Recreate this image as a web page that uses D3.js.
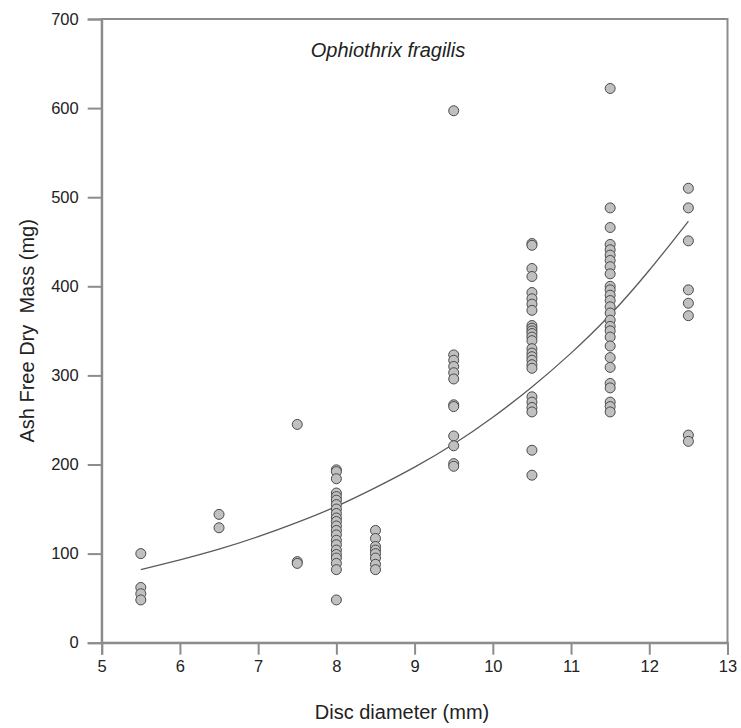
<!DOCTYPE html>
<html>
<head>
<meta charset="utf-8">
<script src="https://cdn.jsdelivr.net/npm/d3@7"></script>
<style>
  html, body { margin: 0; padding: 0; background: #fff; }
  svg text { font-family: Arial, "Liberation Sans", sans-serif; fill: #222; }
</style>
</head>
<body>
<svg id="chart" width="741" height="728"></svg>
<script>
// Disc diameter classes (mm) and the AFDM readings (mg) seen in each column
const DIAMETERS = [5.5, 6.5, 7.5, 8.0, 8.5, 9.5, 10.5, 11.5, 12.5];
const MASS_BY_DIAMETER = [
  [100, 62, 55, 48],
  [144, 129],
  [245, 91, 89],
  [194, 192, 184, 168, 164, 160, 155, 150, 145, 140, 136, 131, 126, 121, 115, 110, 104, 99, 95, 89, 82, 48],
  [126, 117, 108, 104, 100, 95, 88, 82],
  [597, 323, 317, 310, 303, 296, 267, 265, 232, 221, 201, 198],
  [448, 446, 420, 411, 393, 386, 380, 373, 356, 353, 350, 347, 343, 339, 330, 325, 321, 317, 312, 308, 276, 270, 264, 259, 216, 188],
  [622, 488, 466, 447, 441, 435, 429, 422, 414, 400, 396, 390, 384, 377, 370, 362, 355, 350, 343, 333, 320, 309, 291, 286, 270, 265, 259],
  [510, 488, 451, 396, 381, 367, 233, 226]
];
// fitted curve
const CURVE_X = [5.5, 6, 6.5, 7, 7.5, 8, 8.5, 9, 9.5, 10, 10.5, 11, 11.5, 12, 12.5];
const CURVE_Y = [82, 93, 105, 119, 135, 153, 174, 197, 223, 253, 287, 325, 368, 418, 473];

const X_TICKS = [5, 6, 7, 8, 9, 10, 11, 12, 13];
const Y_TICKS = [0, 100, 200, 300, 400, 500, 600, 700];

const margin = { top: 19, right: 13.5, bottom: 85.3, left: 101.7 };
const W = 741, H = 728;
const svg = d3.select('#chart');

const x = d3.scaleLinear().domain([5, 13]).range([margin.left, W - margin.right]);
const y = d3.scaleLinear().domain([0, 700]).range([H - margin.bottom, margin.top]);

const axisColor = '#8c8c8c';

// frame (top + right sides)
svg.append('rect')
  .attr('x', x(5)).attr('y', y(700))
  .attr('width', x(13) - x(5)).attr('height', y(0) - y(700))
  .attr('fill', 'none').attr('stroke', axisColor).attr('stroke-width', 2);

const xAxis = svg.append('g')
  .attr('transform', `translate(0,${y(0)})`)
  .call(d3.axisBottom(x).tickValues(X_TICKS).tickSize(12).tickPadding(6).tickFormat(d3.format('d')));
const yAxis = svg.append('g')
  .attr('transform', `translate(${x(5)},0)`)
  .call(d3.axisLeft(y).tickValues(Y_TICKS).tickSize(14).tickPadding(9).tickFormat(d3.format('d')));

for (const g of [xAxis, yAxis]) {
  g.select('.domain').attr('stroke', axisColor).attr('stroke-width', 2);
  g.selectAll('.tick line').attr('stroke', axisColor).attr('stroke-width', 2);
  g.selectAll('.tick text').attr('font-size', 16.5).attr('fill', '#222')
    .attr('font-family', 'Arial, "Liberation Sans", sans-serif');
}

// fitted curve
const curveData = CURVE_X.map((d, i) => [d, CURVE_Y[i]]);
svg.append('path')
  .datum(curveData)
  .attr('fill', 'none')
  .attr('stroke', '#5a5a5a')
  .attr('stroke-width', 1.3)
  .attr('d', d3.line().x(d => x(d[0])).y(d => y(d[1])).curve(d3.curveNatural));

// points
const points = [];
DIAMETERS.forEach((dia, i) => MASS_BY_DIAMETER[i].forEach(m => points.push({ dia, m })));
svg.append('g').selectAll('circle')
  .data(points)
  .join('circle')
  .attr('cx', d => x(d.dia))
  .attr('cy', d => y(d.m))
  .attr('r', 5)
  .attr('fill', '#c0c0c0')
  .attr('stroke', '#4a4a4a')
  .attr('stroke-width', 1);

// labels
svg.append('text')
  .attr('x', 388).attr('y', 57)
  .attr('text-anchor', 'middle')
  .attr('font-size', 20).attr('font-style', 'italic')
  .text('Ophiothrix fragilis');

svg.append('text')
  .attr('x', 402).attr('y', 719)
  .attr('text-anchor', 'middle')
  .attr('font-size', 20)
  .text('Disc diameter (mm)');

svg.append('text')
  .attr('transform', `translate(34,${y(350)}) rotate(-90)`)
  .attr('text-anchor', 'middle')
  .attr('font-size', 20)
  .style('white-space', 'pre')
  .text('Ash Free Dry  Mass (mg)');
</script>
</body>
</html>
